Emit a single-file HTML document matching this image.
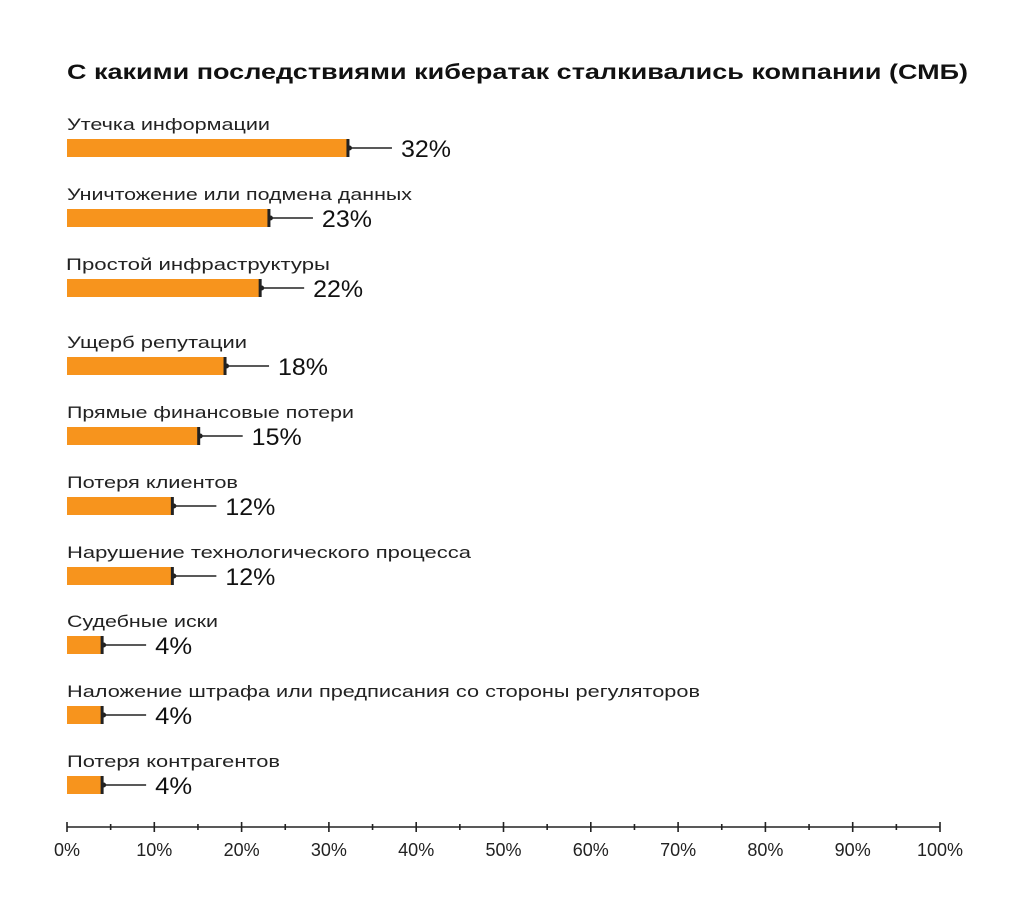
<!DOCTYPE html>
<html><head><meta charset="utf-8"><style>body{margin:0;background:#fff}svg{display:block}</style></head><body>
<svg width="1024" height="916" viewBox="0 0 1024 916" xmlns="http://www.w3.org/2000/svg" font-family="'Liberation Sans','DejaVu Sans',sans-serif">
<rect width="1024" height="916" fill="#fff"/>
<text x="67" y="79" font-size="21" font-weight="bold" fill="#111" textLength="901" lengthAdjust="spacingAndGlyphs">С какими последствиями кибератак сталкивались компании (СМБ)</text>
<g id="rows" fill="#222" font-size="17">
<text x="67" y="130" textLength="203" lengthAdjust="spacingAndGlyphs">Утечка информации</text>
<text x="67" y="200" textLength="345" lengthAdjust="spacingAndGlyphs">Уничтожение или подмена данных</text>
<text x="66" y="270" textLength="264" lengthAdjust="spacingAndGlyphs">Простой инфраструктуры</text>
<text x="67" y="348" textLength="180" lengthAdjust="spacingAndGlyphs">Ущерб репутации</text>
<text x="67" y="418" textLength="287" lengthAdjust="spacingAndGlyphs">Прямые финансовые потери</text>
<text x="67" y="488" textLength="171" lengthAdjust="spacingAndGlyphs">Потеря клиентов</text>
<text x="67" y="558" textLength="404" lengthAdjust="spacingAndGlyphs">Нарушение технологического процесса</text>
<text x="67" y="627" textLength="151" lengthAdjust="spacingAndGlyphs">Судебные иски</text>
<text x="67" y="697" textLength="633" lengthAdjust="spacingAndGlyphs">Наложение штрафа или предписания со стороны регуляторов</text>
<text x="67" y="767" textLength="213" lengthAdjust="spacingAndGlyphs">Потеря контрагентов</text>
</g>
<g id="bars"></g>
<g stroke="#222" stroke-width="1.6">
<line x1="67" y1="827" x2="940" y2="827"/>
</g>
<g id="ticks" stroke="#222" stroke-width="1.6"></g>
<g id="tl" font-size="18" fill="#222" text-anchor="middle"></g>
<script>
var ns="http://www.w3.org/2000/svg";
function el(p,t,a,txt){var e=document.createElementNS(ns,t);for(var k in a)e.setAttribute(k,a[k]);if(txt)e.textContent=txt;document.getElementById(p).appendChild(e);}
var vals=[32,23,22,18,15,12,12,4,4,4],ys=[148,218,288,366,436,506,576,645,715,785];
for(var i=0;i<10;i++){var x=67+8.78*vals[i],y=ys[i];
el("bars","rect",{x:67,y:y-9,width:x-67,height:18,fill:"#f7941d"});
el("bars","line",{x1:x,y1:y,x2:x+44,y2:y,stroke:"#222","stroke-width":1.5});
el("bars","rect",{x:x-1.5,y:y-9,width:3,height:18,fill:"#222"});
el("bars","circle",{cx:x+1.5,cy:y,r:2.5,fill:"#222"});
var t=vals[i]+"%";
el("bars","text",{x:x+53,y:y+9,"font-size":24,fill:"#111",textLength:(t.length==3?50:37),lengthAdjust:"spacingAndGlyphs"},t);}
for(var j=0;j<=20;j++){var tx=67+43.65*j,maj=j%2==0;
el("ticks","line",{x1:tx,y1:maj?822:824,x2:tx,y2:maj?832:830});
if(maj)el("tl","text",{x:tx,y:856},(j*5)+"%");}
</script>
</svg>
</body></html>
